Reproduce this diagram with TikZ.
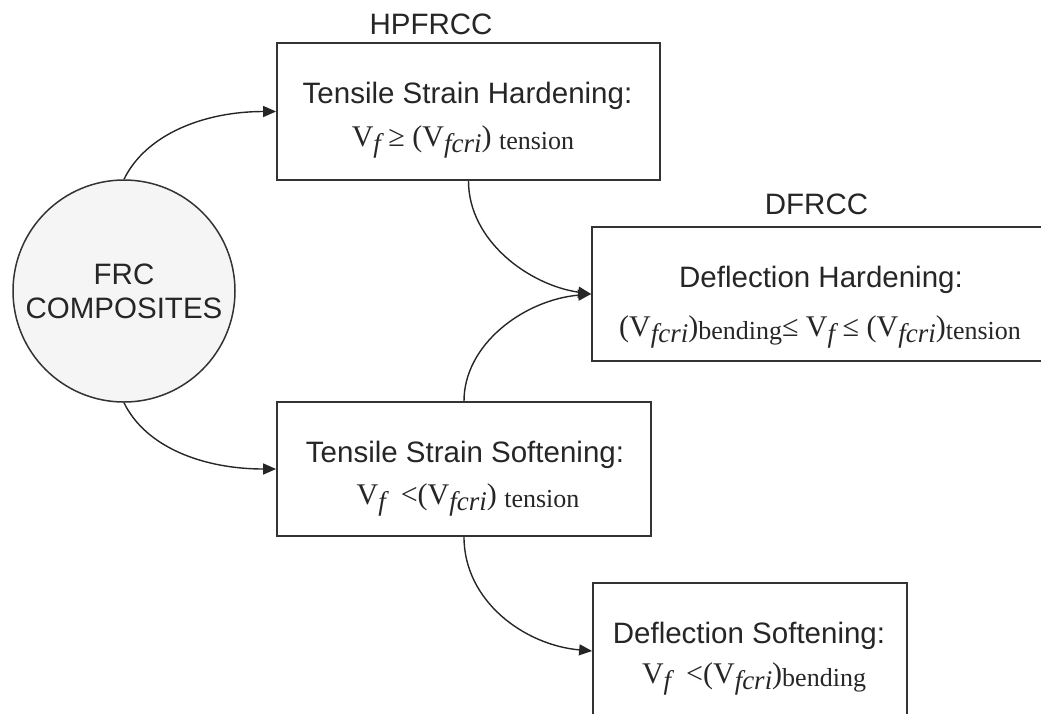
\documentclass[tikz,border=0pt]{standalone}
\usepackage{fontspec}
\setmainfont{Liberation Sans}
\newfontfamily\tnr{Liberation Serif}
\usetikzlibrary{arrows.meta,calc}
\newcommand{\vsf}{\raisebox{-6pt}{\fontsize{27}{30}\selectfont\itshape f}}
\newcommand{\vsc}{\raisebox{-6pt}{\fontsize{27}{30}\selectfont\itshape fcri}}
\newcommand{\vst}[1]{\raisebox{-3pt}{\fontsize{26}{30}\selectfont #1}}
\begin{document}
\begin{tikzpicture}[x=1pt,y=-1pt,
  box/.style={draw=black!80, line width=1.8pt, rectangle, inner sep=0pt},
  lbl/.style={inner sep=0pt, font=\fontsize{29.5}{34}\selectfont, text=black!85},
  txt/.style={anchor=base, inner sep=0pt, font=\fontsize{29.5}{34}\selectfont, text=black!85},
  ser/.style={anchor=base, inner sep=0pt, font=\tnr\fontsize{30}{34}\selectfont, text=black!85},
  arr/.style={draw=black!85, line width=1.4pt, -{Triangle[length=13pt,width=11pt]}}]
\useasboundingbox (0,0) rectangle (1041,713);
\clip (0,0) rectangle (1041,713);

% main shapes
\node[circle, draw=black!80, line width=1.5pt, fill=black!4, minimum size=222pt, inner sep=0pt,
      align=center, font=\fontsize{29.5}{34}\selectfont, text=black!85] (c) at (124,291) {FRC\\COMPOSITES};
\node[box, minimum width=383pt, minimum height=137pt] (hp) at (468.5,111.5) {};
\node[box, minimum width=460pt, minimum height=134pt] (df) at (822,294) {};
\node[box, minimum width=374pt, minimum height=134pt] (sw) at (464,469) {};
\node[box, minimum width=314pt, minimum height=136pt] (ds) at (750,651) {};

% labels above boxes
\node[lbl] (hpl) at (431,24) {HPFRCC};
\node[lbl] (dfl) at (816.5,204) {DFRCC};

% box texts
\node[txt] (hp1) at (467.5,103) {Tensile Strain Hardening:};
\node[ser] (hp2) at (463,146) {V\vsf{} ≥ (V\vsc) \vst{tension}};
\node[txt] (df1) at (821,287) {Deflection Hardening:};
\node[ser] (df2) at (820,336) {(V\vsc)\vst{bending}≤ V\vsf{} ≤ (V\vsc)\vst{tension}};
\node[txt] (sw1) at (465,462) {Tensile Strain Softening:};
\node[ser] (sw2) at (468,504) {V\vsf{}\ \ <(V\vsc) \vst{tension}};
\node[txt] (ds1) at (749,643) {Deflection Softening:};
\node[ser] (ds2) at (754,683) {V\vsf{}\ \ <(V\vsc)\vst{bending}};

% connectors
\draw[arr] (c.north) .. controls ($(c.north)+(22,-45)$) and ($(hp.west)+(-72,0)$) .. (hp.west);
\draw[arr] (c.south) .. controls ($(c.south)+(22,45)$) and ($(sw.west)+(-72,0)$) .. (sw.west);
\draw[arr] (hp.south) .. controls ($(hp.south)+(0,60)$) and ($(df.west)+(-62,-9)$) .. (df.west);
\draw[arr] (sw.north) .. controls ($(sw.north)+(0,-57)$) and ($(df.west)+(-67,6)$) .. (df.west);
\draw[arr] (sw.south) .. controls ($(sw.south)+(0,64)$) and ($(ds.west)+(-68,-6)$) .. (ds.west);
\end{tikzpicture}
\end{document}
